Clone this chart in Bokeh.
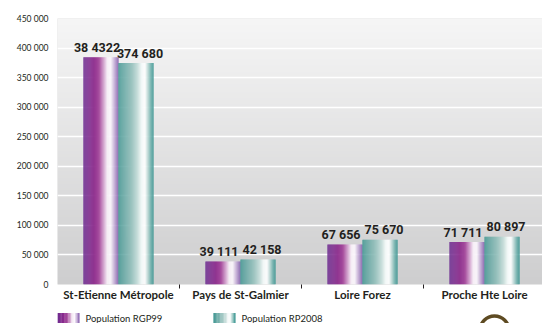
import numpy as np
from bokeh.plotting import figure
from bokeh.layouts import column
from bokeh.models import Range1d, FixedTicker, ColumnDataSource
from bokeh.core.properties import value
from bokeh.embed import file_html
from bokeh.resources import INLINE

# ---------------- data ----------------
categories = ["St-Etienne Métropole", "Pays de St-Galmier", "Loire Forez", "Proche Hte Loire"]
series_names = ["Population RGP99", "Population RP2008"]
pop_rgp99 = [384322, 39111, 67656, 71711]
pop_rp2008 = [374680, 42158, 75670, 80897]
labels_rgp99 = ["38 4322", "39 111", "67 656", "71 711"]
labels_rp2008 = ["374 680", "42 158", "75 670", "80 897"]
y_ticks = [0, 50000, 100000, 150000, 200000, 250000, 300000, 350000, 400000, 450000]
y_tick_labels = ["0", "50 000", "100 000", "150 000", "200 000", "250 000",
                 "300 000", "350 000", "400 000", "450 000"]

# ---------------- style ----------------
TXT = "#231f20"
BW = 0.287          # bar width in category units
NSL = 36            # gradient slices per bar
purple_stops = ([0, 0.12, 0.3, 0.45, 0.58, 0.68, 0.78, 0.88, 1.0],
                ["#6c2c91", "#7a2b8f", "#8c2a8c", "#a8509f", "#d4a6cf", "#f6eef6",
                 "#fdf9fd", "#c9b2da", "#8560ae"])
teal_stops = ([0, 0.1, 0.35, 0.55, 0.66, 0.76, 0.85, 0.93, 1.0],
              ["#3f9892", "#5aa29e", "#93bfbb", "#c9dedb", "#f2f8f7", "#ffffff",
               "#b6d6d3", "#6aaeaa", "#3f9894"])
series_stops = [purple_stops, teal_stops]


def hex2rgb(h):
    h = h.lstrip("#")
    return np.array([int(h[i:i + 2], 16) for i in (0, 2, 4)], dtype=float)


def gradient(stops, n):
    pos, cols = stops
    rgb = np.array([hex2rgb(c) for c in cols])
    t = (np.arange(n) + 0.5) / n
    out = []
    for ti in t:
        c = [np.interp(ti, pos, rgb[:, k]) for k in range(3)]
        out.append("#%02x%02x%02x" % tuple(int(round(v)) for v in c))
    return out


X_END = 3.975
p = figure(width=542, height=305, output_backend="svg", toolbar_location=None,
           x_range=Range1d(0, X_END), y_range=Range1d(0, 450000),
           min_border_left=57, min_border_right=0, min_border_top=18, min_border_bottom=21)
p.outline_line_color = None
p.border_fill_color = "white"
p.background_fill_color = "#e0e0e0"

# background gradient
nrow = 256
g = np.linspace(0, 1, nrow)
top = np.array([246, 246, 246], dtype=float)
bot = np.array([206, 206, 207], dtype=float)
img = np.empty((nrow, 1), dtype=np.uint32)
view = img.view(dtype=np.uint8).reshape((nrow, 1, 4))
for r in range(nrow):
    c = bot + (top - bot) * g[r]
    view[r, 0, 0:3] = c.astype(np.uint8)
    view[r, 0, 3] = 255
p.image_rgba(image=[img], x=0, y=0, dw=X_END, dh=450000, level="image")

# gradient bars
series = [(pop_rgp99, labels_rgp99, purple_stops, -BW / 2, -4),
          (pop_rp2008, labels_rp2008, teal_stops, BW / 2, 4)]
for vals, labs, stops, off, lab_dx in series:
    cols = gradient(stops, NSL)
    xs, tops, fills = [], [], []
    for k in range(NSL):
        for i, v in enumerate(vals):
            xs.append(i + 0.5 + off - BW / 2 + (k + 0.5) * BW / NSL)
            tops.append(v)
            fills.append(cols[k])
    src = ColumnDataSource(dict(x=xs, top=tops, color=fills))
    p.vbar(x="x", top="top", width=BW / NSL * 1.25, bottom=0, source=src,
           fill_color="color", line_color=None)
    lsrc = ColumnDataSource(dict(x=[i + 0.5 + off for i in range(len(vals))], y=vals, t=labs))
    p.text(x="x", y="y", text="t", source=lsrc, text_align="center",
           text_baseline="alphabetic", x_offset=lab_dx, y_offset=-10, text_color=TXT,
           text_font=value("Roboto"), text_font_style="bold", text_font_size="12.5px")

# axes
p.yaxis.ticker = FixedTicker(ticks=y_ticks)
p.yaxis.major_label_overrides = {t: l for t, l in zip(y_ticks, y_tick_labels)}
p.yaxis.axis_line_color = None
p.yaxis.major_tick_line_color = None
p.yaxis.minor_tick_line_color = None
p.yaxis.major_tick_out = 0
p.yaxis.minor_tick_out = 0
p.yaxis.major_label_text_font = "Lato"
p.yaxis.major_label_text_font_size = "8.5px"
p.yaxis.major_label_text_color = TXT
p.yaxis.major_label_standoff = 9

xt = [i + 0.5 for i in range(len(categories))]
p.xaxis.ticker = FixedTicker(ticks=xt, minor_ticks=list(range(1, len(categories))))
p.xaxis.major_label_overrides = {t: c for t, c in zip(xt, categories)}
p.xaxis.axis_line_color = None
p.xaxis.major_tick_line_color = None
p.xaxis.major_tick_out = 0
p.xaxis.minor_tick_line_color = TXT
p.xaxis.minor_tick_in = 0
p.xaxis.minor_tick_out = 4
p.xaxis.major_label_text_font = "Lato"
p.xaxis.major_label_text_font_style = "bold"
p.xaxis.major_label_text_font_size = "11.5px"
p.xaxis.major_label_text_color = TXT
p.xaxis.major_label_standoff = -1

p.xgrid.grid_line_color = None
p.ygrid.ticker = FixedTicker(ticks=y_ticks)
p.ygrid.grid_line_color = "white"
p.ygrid.grid_line_width = 1.5

# ---------------- legend strip (separate figure; its frame is aligned with the main frame,
# so its x coordinates are page pixels from 57 to 542) ----------------
LH = 18
lg = figure(width=542, height=LH, output_backend="svg", toolbar_location=None,
            x_range=Range1d(57, 542), y_range=Range1d(0, LH),
            x_axis_type=None, y_axis_type=None,
            min_border_left=57, min_border_right=0, min_border_top=0, min_border_bottom=0,
            outline_line_color=None)
lg.grid.visible = False
lg.border_fill_color = "white"
lg.background_fill_color = "white"

SW_W, SW_H, SW_Y = 22, 10, 5.5        # swatch size and vertical centre
item_x = [57, 213]
for sx, name, stops in zip(item_x, series_names, series_stops):
    n = 16
    cols = gradient(stops, n)
    lg.rect(x=[sx + (k + 0.5) * SW_W / n for k in range(n)], y=SW_Y,
            width=SW_W / n * 1.2, height=SW_H, fill_color=cols, line_color=None)
    lg.text(x=[sx + SW_W + 6], y=[SW_Y], text=[name], text_baseline="middle",
            text_font=value("Lato"), text_font_size="9.5px", text_color=TXT)

# fragment of a logo ring at the lower right
lg.arc(x=[494], y=[-7], radius=14.5, start_angle=0, end_angle=np.pi,
       line_color="#5e4b22", line_width=3.5)

open("out.html", "w").write(file_html(column(p, lg, spacing=0), INLINE))
